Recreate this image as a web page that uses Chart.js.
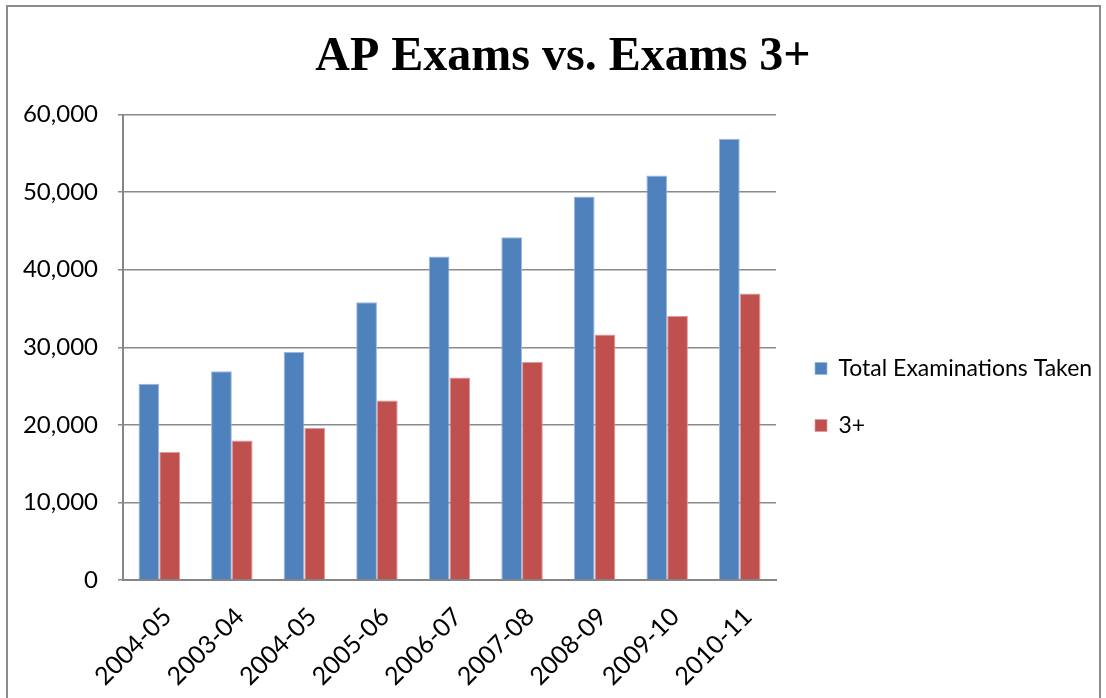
<!DOCTYPE html>
<html>
<head>
<meta charset="utf-8">
<script src="https://cdn.jsdelivr.net/npm/chart.js@4"></script>
<style>
  html, body { margin: 0; padding: 0; background: #fff; }
  #wrap { position: relative; width: 1106px; height: 698px; overflow: hidden; }
  #frame { position: absolute; left: 6px; top: 5px; width: 1095px; height: 760px; border: 2px solid #8c8c8c; box-sizing: border-box; pointer-events: none; }
  canvas { position: absolute; left: 0; top: 0; }
</style>
</head>
<body>
<div id="wrap">
  <canvas id="c" width="1106" height="698"></canvas>
  <div id="frame"></div>
</div>
<script>
const categories = ["2004-05", "2003-04", "2004-05", "2005-06", "2006-07", "2007-08", "2008-09", "2009-10", "2010-11"];
const totalTaken = [25300, 26900, 29400, 35800, 41700, 44200, 49450, 52150, 56900];
const threePlus  = [16500, 18000, 19600, 23150, 26100, 28100, 31650, 34050, 36950];
const seriesNames = ["Total Examinations Taken", "3+"];
const yTicks = [0, 10000, 20000, 30000, 40000, 50000, 60000];

const fmt = new Intl.NumberFormat('en-US');

const placeLegend = {
  id: 'placeLegend',
  beforeLayout(chart) {
    const lg = chart.legend;
    if (lg && !lg._fixed) {
      const orig = lg.fit;
      lg.fit = function () { orig.call(this); this.width = 330; };
      lg._fixed = true;
    }
  },
  afterLayout(chart) {
    const lg = chart.legend;
    if (lg) {
      lg.left += 5; lg.right += 5;
      lg.top += 48; lg.bottom += 48;
    }
  }
};

new Chart(document.getElementById('c'), {
  type: 'bar',
  data: {
    labels: categories,
    datasets: [
      { label: seriesNames[0], data: totalTaken, backgroundColor: '#4F81BD', borderColor: '#9db8dc', borderWidth: { top: 1, left: 1, right: 1, bottom: 0 }, borderSkipped: false },
      { label: seriesNames[1], data: threePlus, backgroundColor: '#C0504D', borderColor: '#e09a98', borderWidth: { top: 1, left: 1, right: 1, bottom: 0 }, borderSkipped: false }
    ]
  },
  plugins: [placeLegend],
  options: {
    responsive: false,
    animation: false,
    devicePixelRatio: 1,
    layout: { padding: { left: 20, right: 0, top: 0, bottom: 0 } },
    datasets: { bar: { categoryPercentage: 0.572, barPercentage: 1 } },
    plugins: {
      title: {
        display: true,
        text: 'AP Exams vs. Exams 3+',
        color: '#000',
        font: { family: '"Liberation Serif", "Times New Roman", serif', size: 48, weight: 'bold' },
        padding: { top: 29, bottom: 28 }
      },
      legend: {
        position: 'right',
        align: 'center',
        labels: {
          boxWidth: 12,
          boxHeight: 12,
          padding: 34,
          color: '#000',
          font: { family: 'Lato, "Open Sans", sans-serif', size: 23 }
        }
      },
      tooltip: { enabled: false }
    },
    scales: {
      x: {
        grid: { display: false, drawTicks: false },
        border: { color: '#868686', width: 2 },
        ticks: {
          color: '#000',
          font: { family: 'Lato, "Open Sans", sans-serif', size: 25 },
          minRotation: 45,
          maxRotation: 45,
          padding: 22,
          labelOffset: 8,
          autoSkip: false
        },
        afterFit(scale) { scale.height = 118; }
      },
      y: {
        min: 0,
        max: 60000,
        afterBuildTicks(scale) { scale.ticks = yTicks.map(v => ({ value: v })); },
        grid: { color: '#8a8a8a', lineWidth: 1.5, tickLength: 5 },
        border: { color: '#868686', width: 2 },
        ticks: {
          color: '#000',
          font: { family: 'Lato, "Open Sans", sans-serif', size: 24 },
          padding: 20,
          callback: v => fmt.format(v)
        },
        afterFit(scale) { scale.width = 103; }
      }
    }
  }
});
</script>
</body>
</html>
